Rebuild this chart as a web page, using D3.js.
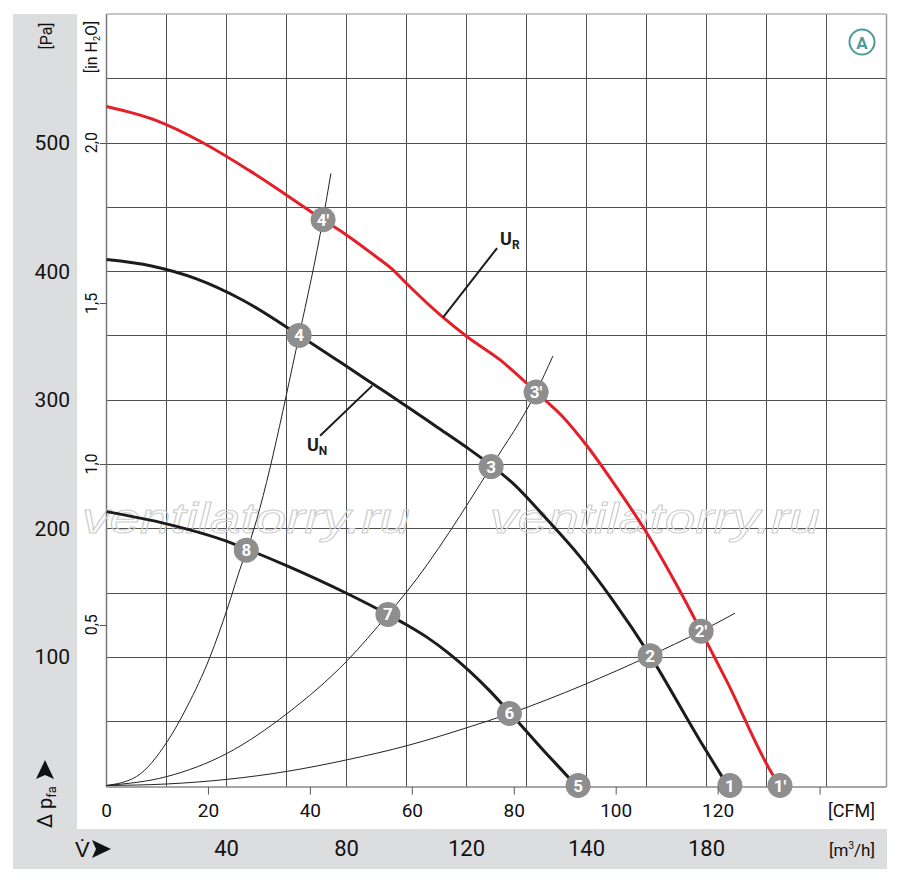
<!DOCTYPE html>
<html>
<head>
<meta charset="utf-8">
<script src="https://cdn.jsdelivr.net/npm/d3@7/dist/d3.min.js"></script>
<style>
	body { margin: 0; background: #fff; }
	svg text { font-family: "Liberation Sans Narrow", "Roboto", "Liberation Sans", sans-serif; }
</style>
</head>
<body>
<script>

// SVG Size
var width = 900,
	height = 880;

// Curves: [m3/h, Pa]
var curveUR = [[0,528],[16.7,517],[31.2,501],[47.8,478],[72.2,440],[80.1,428],[90,411],[95.5,401],[100.2,390],
	[112.2,364],[120.2,349],[131.2,331],[143.2,306],[152,287],[160.2,264],[168.8,236],[180.2,196],[191.2,151],
	[198.2,120],[206.8,81],[222.2,8],[224.5,0]];
var curveUN = [[0,409],[15,404],[30,394],[45,378],[64.3,350],[80,326],[90,310.5],[100,295],[110,279],
	[120,263],[128.2,249],[135.5,235],[146.8,207],[157.8,178],[168.8,144],[181.2,101],[197.8,35],[206.2,3],[207.8,-3]];
var curveLow = [[0,213],[20,203.5],[40,190],[46.6,184],[60,171],[80,149.5],[93.8,133],[100,125],[107,115],
	[114,103],[121,89],[128,73],[134.3,57],[145,29],[154.5,5],[157.2,-2]];

// System curves (thin lines)
var sysA = [[0,0],[10,7],[20.2,34],[26.8,61],[34.5,100],[40.2,137],[45.5,175],[46.8,183],[64.2,350],[72.2,441],[74.8,476]];
var sysB = [[0,0],[20.2,7],[40.2,25],[60.2,56],[80.2,97],[93.8,133],[100.2,151],[128.2,248],[143.2,306],[148.8,334]];
var sysC = [[0,0],[20.2,1.2],[60.2,11],[80.2,20],[100.2,31],[120.2,45],[134.5,56],[158.8,78],[181.2,101],[198.2,120],[209.5,134]];

// Operating points
var markers = [
	{label: "1", q: 207.8, p: 0},
	{label: "1'", q: 224.5, p: 0},
	{label: "2", q: 181.2, p: 101},
	{label: "2'", q: 198.2, p: 120},
	{label: "3", q: 128.2, p: 248},
	{label: "3'", q: 143.2, p: 306},
	{label: "4", q: 64.2, p: 350},
	{label: "4'", q: 72.2, p: 440},
	{label: "5", q: 157.2, p: 0},
	{label: "6", q: 134.3, p: 56},
	{label: "7", q: 93.8, p: 133},
	{label: "8", q: 46.6, p: 183}
];

// Tick labels
var paTicks = [100, 200, 300, 400, 500];
var inchTicks = [125, 250, 375, 500];
var inchLabels = ["0,5", "1,0", "1,5", "2,0"];
var cfmTicks = [0, 20, 40, 60, 80, 100, 120, 140];
var mhTicks = [40, 80, 120, 160, 200];
var mhLabels = ["40", "80", "120", "140", "180"];

var svg = d3.select("body").append("svg")
	.attr("width", width)
	.attr("height", height);

var x = d3.scaleLinear().domain([0, 260]).range([106.5, 886.5]);
var y = d3.scaleLinear().domain([0, 600]).range([785.5, 14]);
var xCfm = d3.scaleLinear().domain([0, 260 / 1.699]).range([106.5, 886.5]);

// grey bands
svg.append("rect").attr("x", 13).attr("y", 14).attr("width", 64).attr("height", 855).attr("fill", "#dcdddf");
svg.append("rect").attr("x", 13).attr("y", 829).attr("width", 874).attr("height", 40).attr("fill", "#dcdddf");

// grid
var grid = svg.append("g").attr("stroke", "#505050").attr("stroke-width", 1);
grid.selectAll(".v").data(d3.range(20, 260, 20)).enter().append("line")
	.attr("x1", function(d){ return x(d); }).attr("x2", function(d){ return x(d); })
	.attr("y1", y(600)).attr("y2", y(0) + 1.5);
grid.selectAll(".h").data(d3.range(50, 600, 50)).enter().append("line")
	.attr("x1", x(0)).attr("x2", x(260))
	.attr("y1", function(d){ return Math.round(y(d)) + 0.5; }).attr("y2", function(d){ return Math.round(y(d)) + 0.5; });

// frame
svg.append("line").attr("x1", x(0)).attr("x2", x(260)).attr("y1", y(600)).attr("y2", y(600)).attr("stroke", "#b5b5b5").attr("stroke-width", 1.5);
svg.append("line").attr("x1", x(260)).attr("x2", x(260)).attr("y1", y(600)).attr("y2", y(0) + 1.5).attr("stroke", "#9a9a9a").attr("stroke-width", 1.5);
svg.append("line").attr("x1", x(0)).attr("x2", x(0)).attr("y1", y(600)).attr("y2", y(0) + 1.5).attr("stroke", "#777").attr("stroke-width", 1.5);
svg.append("line").attr("x1", x(0)).attr("x2", x(260)).attr("y1", y(0) + 1.5).attr("y2", y(0) + 1.5).attr("stroke", "#888").attr("stroke-width", 1.5);

// watermark
[[82, 328], [490, 330]].forEach(function(w){
	svg.append("text")
		.attr("x", w[0]).attr("y", 533)
		.attr("textLength", w[1]).attr("lengthAdjust", "spacingAndGlyphs")
		.style("font-family", "'Liberation Sans', sans-serif")
		.style("font-style", "italic")
		.attr("font-size", 42)
		.attr("fill", "none").attr("stroke", "#cdcdcd").attr("stroke-width", 1)
		.text("ventilatorry.ru");
});

// curves
var line = d3.line()
	.x(function(d){ return x(d[0]); })
	.y(function(d){ return y(d[1]); })
	.curve(d3.curveMonotoneX);

[sysA, sysB, sysC].forEach(function(c){
	svg.append("path").attr("d", line(c)).attr("fill", "none").attr("stroke", "#222").attr("stroke-width", 1);
});
svg.append("path").attr("d", line(curveLow)).attr("fill", "none").attr("stroke", "#1c1c1c").attr("stroke-width", 3);
svg.append("path").attr("d", line(curveUN)).attr("fill", "none").attr("stroke", "#1c1c1c").attr("stroke-width", 3);
svg.append("path").attr("d", line(curveUR)).attr("fill", "none").attr("stroke", "#e51f28").attr("stroke-width", 3);

// curve labels with leader lines
var leaders = [
	{from: [112.2, 364], to: [130.2, 418], main: "U", sub: "R", at: [131.2, 420]},
	{from: [88.6, 311], to: [71.2, 272], main: "U", sub: "N", at: [66.8, 260]}
];
leaders.forEach(function(l){
	svg.append("line")
		.attr("x1", x(l.from[0])).attr("y1", y(l.from[1]))
		.attr("x2", x(l.to[0])).attr("y2", y(l.to[1]))
		.attr("stroke", "#1c1c1c").attr("stroke-width", 2);
	var t = svg.append("text")
		.attr("x", x(l.at[0])).attr("y", y(l.at[1]))
		.attr("font-size", 18).attr("font-weight", "bold").attr("fill", "#1c1c1c");
	t.append("tspan").text(l.main);
	t.append("tspan").attr("font-size", 12).attr("dy", 4).text(l.sub);
});

// operating point markers
var mk = svg.selectAll(".mk").data(markers).enter().append("g")
	.attr("transform", function(d){ return "translate(" + x(d.q) + "," + y(d.p) + ")"; });
mk.append("circle").attr("r", 12.5).attr("fill", "#8e8e8e");
mk.append("text")
	.attr("text-anchor", "middle").attr("y", 6)
	.attr("font-size", 17).attr("font-weight", "bold").attr("fill", "#fff")
	.text(function(d){ return d.label; });

// "A" badge
svg.append("circle").attr("cx", 862).attr("cy", 42).attr("r", 12.5)
	.attr("fill", "none").attr("stroke", "#4e9a95").attr("stroke-width", 2);
svg.append("text").attr("x", 862).attr("y", 48.5).attr("text-anchor", "middle")
	.attr("font-size", 17).attr("font-weight", "bold").attr("fill", "#4e9a95").text("A");

// Pa axis labels
svg.selectAll(".pa").data(paTicks).enter().append("text")
	.attr("x", 70).attr("y", function(d){ return y(d) + 7.5; })
	.attr("text-anchor", "end").attr("font-size", 21).attr("fill", "#111")
	.text(function(d){ return d; });

svg.append("text")
	.attr("transform", "translate(52,36) rotate(-90)")
	.attr("text-anchor", "middle").attr("font-size", 16).attr("fill", "#111")
	.text("[Pa]");

// in H2O labels
svg.selectAll(".inch").data(inchTicks).enter().append("line")
	.attr("x1", 100).attr("x2", x(0))
	.attr("y1", function(d){ return Math.round(y(d)) + 0.5; }).attr("y2", function(d){ return Math.round(y(d)) + 0.5; })
	.attr("stroke", "#555");
svg.selectAll(".inchl").data(inchTicks).enter().append("text")
	.attr("transform", function(d){ return "translate(97," + y(d) + ") rotate(-90)"; })
	.attr("text-anchor", "middle").attr("font-size", 16).attr("fill", "#111")
	.text(function(d, i){ return inchLabels[i]; });

var ih = svg.append("text")
	.attr("transform", "translate(97,47) rotate(-90)")
	.attr("text-anchor", "middle").attr("font-size", 16).attr("fill", "#111");
ih.append("tspan").text("[in H");
ih.append("tspan").attr("font-size", 9).attr("dy", 3).text("2");
ih.append("tspan").attr("dy", -3).text("O]");

// delta p_fa label
var arrow = "M-8,-9 L11,0 L-8,9 L-4,0 Z";
var dp = svg.append("text")
	.attr("transform", "translate(52,828) rotate(-90)")
	.attr("font-size", 20).attr("fill", "#111");
dp.append("tspan").text("\u0394 p");
dp.append("tspan").attr("font-size", 13).attr("dy", 4).text("fa");
svg.append("path")
	.attr("d", arrow)
	.attr("transform", "translate(45,771) rotate(-90)")
	.attr("fill", "#111");

// CFM axis
svg.selectAll(".cfmt").data(cfmTicks.slice(1)).enter().append("line")
	.attr("x1", function(d){ return xCfm(d); }).attr("x2", function(d){ return xCfm(d); })
	.attr("y1", y(0) + 1.5).attr("y2", y(0) + 9)
	.attr("stroke", "#555");
svg.selectAll(".cfml").data(cfmTicks.slice(0, 7)).enter().append("text")
	.attr("x", function(d){ return xCfm(d); }).attr("y", 817)
	.attr("text-anchor", "middle").attr("font-size", 19).attr("fill", "#111")
	.text(function(d){ return d; });
svg.append("text").attr("x", 875).attr("y", 817).attr("text-anchor", "end")
	.attr("font-size", 18).attr("fill", "#111").text("[CFM]");

// m3/h axis
svg.selectAll(".mh").data(mhTicks).enter().append("text")
	.attr("x", function(d){ return x(d); }).attr("y", 856)
	.attr("text-anchor", "middle").attr("font-size", 22).attr("fill", "#111")
	.text(function(d, i){ return mhLabels[i]; });
var mh = svg.append("text").attr("x", 875).attr("y", 856).attr("text-anchor", "end")
	.attr("font-size", 17).attr("fill", "#111");
mh.append("tspan").text("[m");
mh.append("tspan").attr("font-size", 10).attr("dy", -7).text("3");
mh.append("tspan").attr("dy", 7).text("/h]");

svg.append("text").attr("x", 75).attr("y", 857).attr("font-size", 22).attr("fill", "#111").text("V\u0307");
svg.append("path")
	.attr("d", arrow)
	.attr("transform", "translate(100,849)")
	.attr("fill", "#111");

</script>
</body>
</html>
